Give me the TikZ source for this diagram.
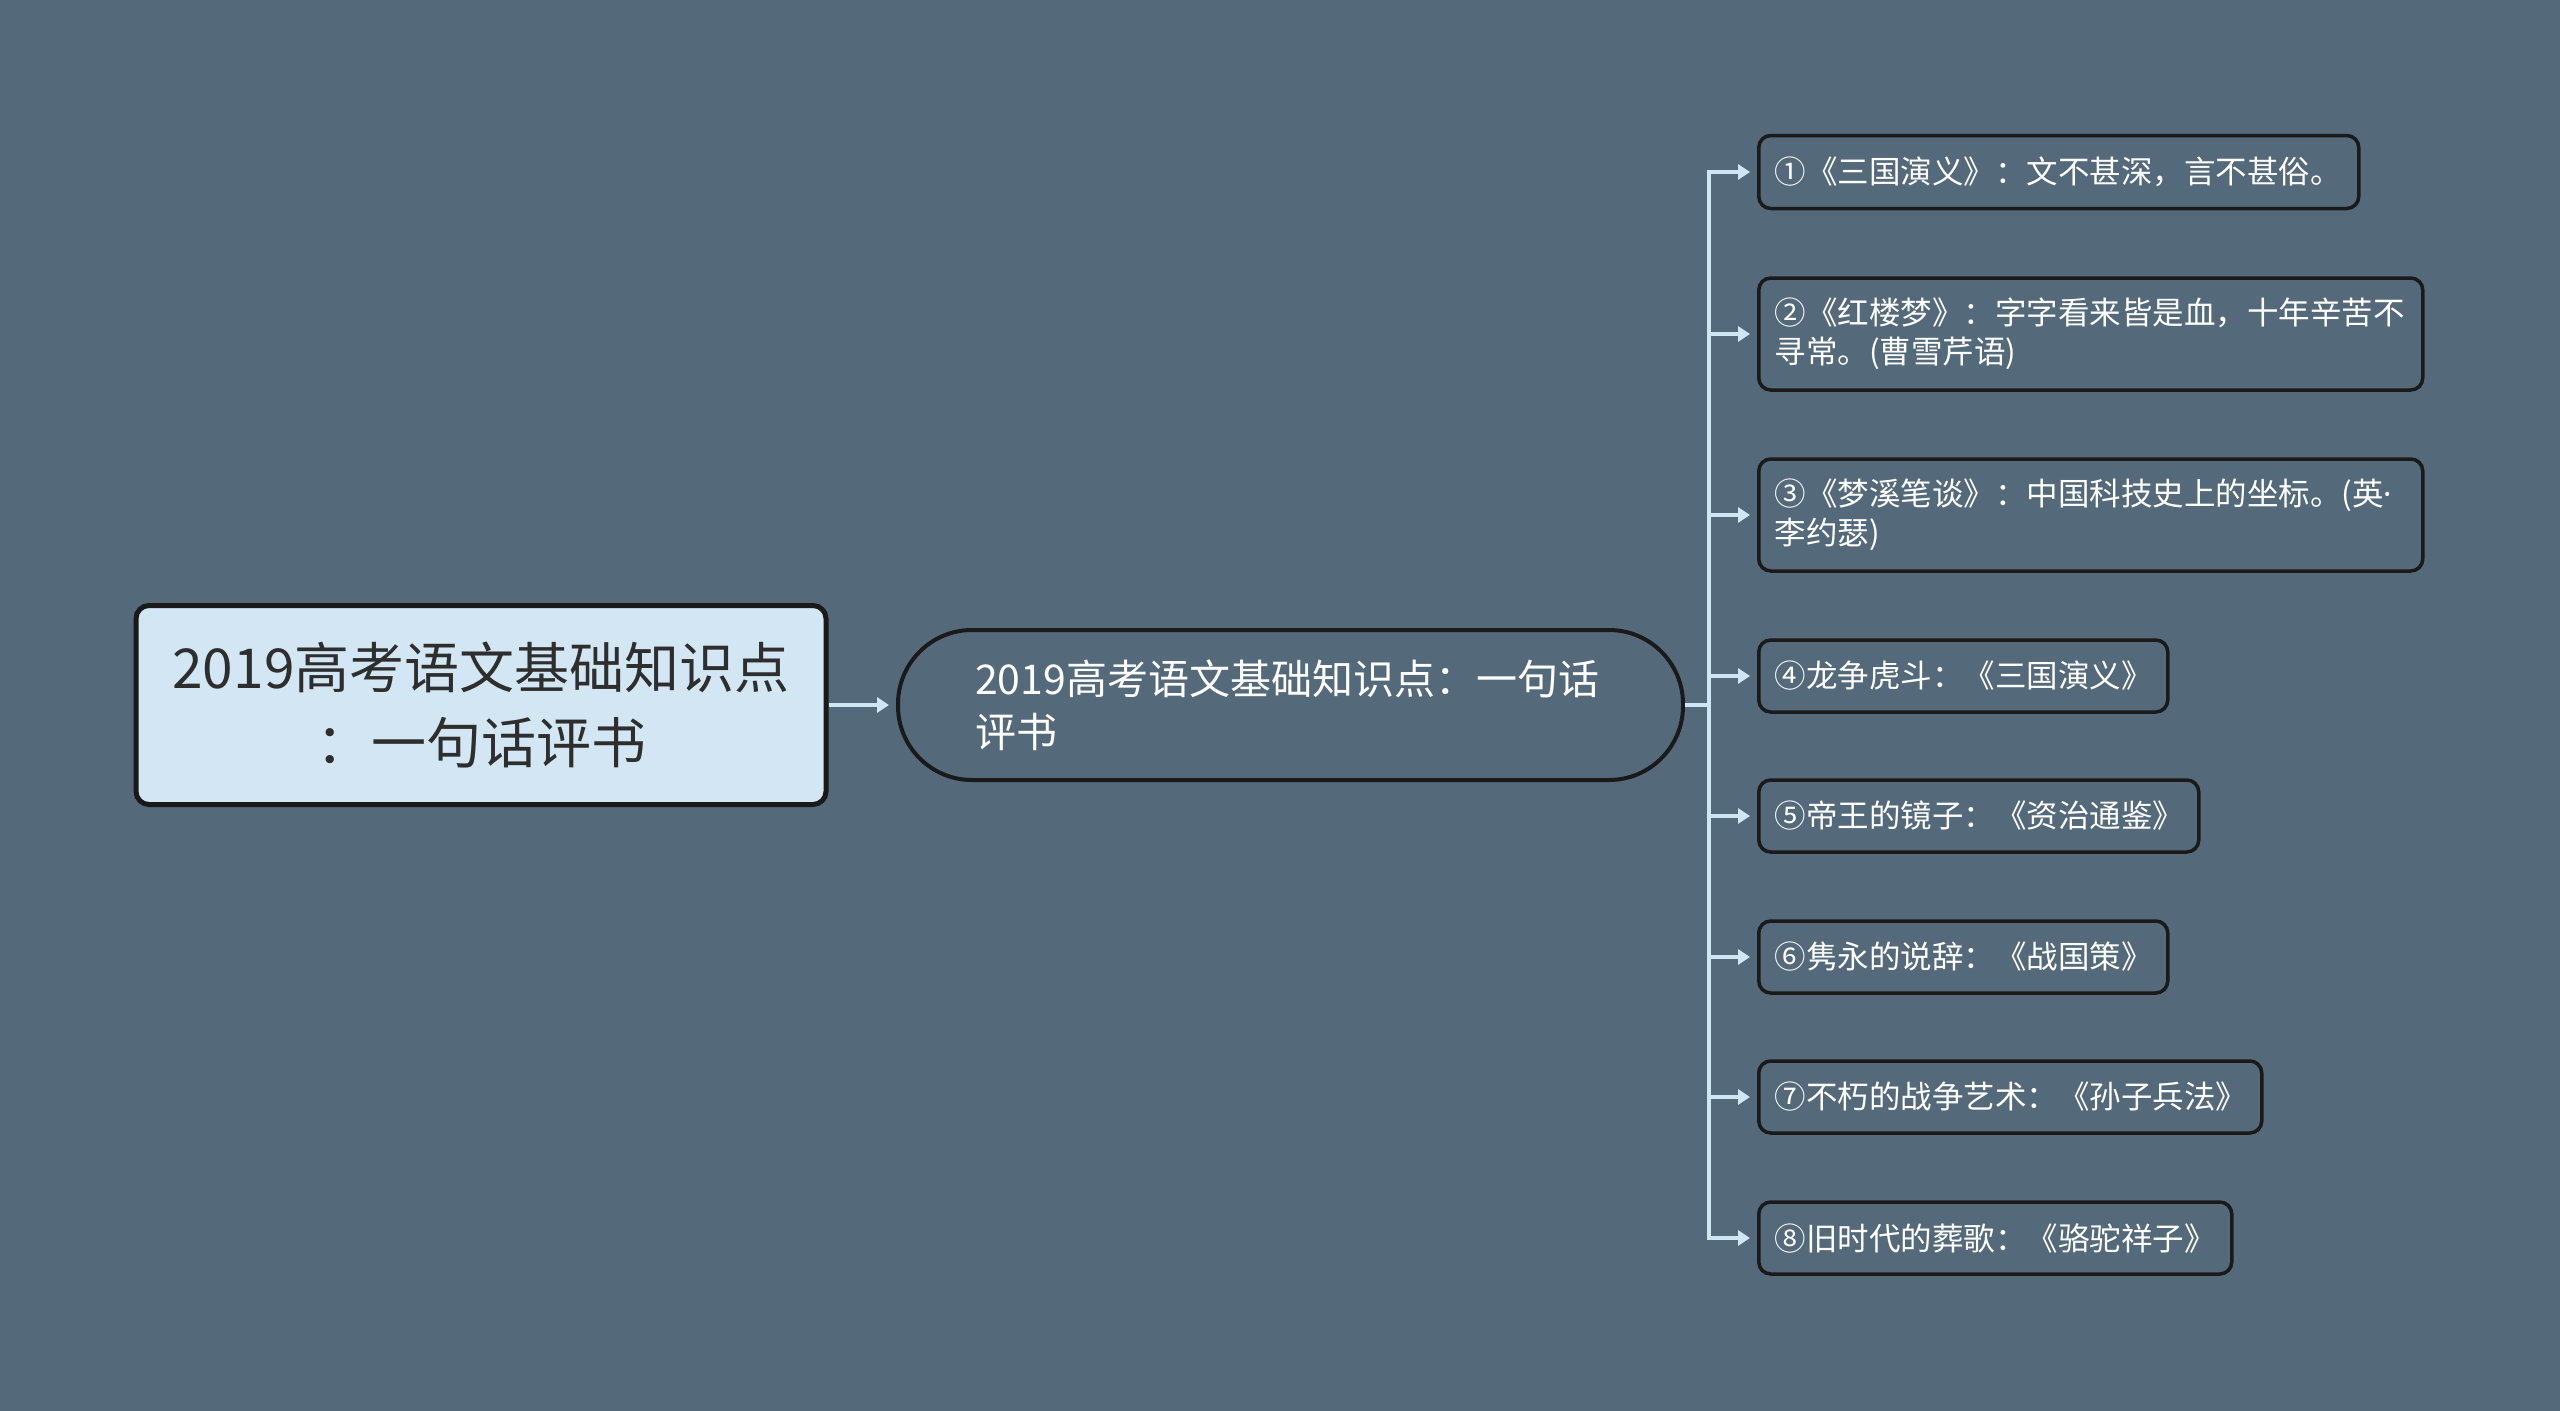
\documentclass[tikz,border=0pt]{standalone}
\usepackage{fontspec}
\newfontfamily\cjk{Noto Sans CJK SC}
\newfontfamily\latinsans{Noto Sans}
\usetikzlibrary{arrows.meta}
\definecolor{bgc}{HTML}{546A7A}
\definecolor{rootfill}{HTML}{D2E7F3}
\definecolor{linec}{HTML}{CFE6F4}
\definecolor{edgec}{HTML}{1A1A1A}
\definecolor{roottext}{HTML}{2E2E2E}
\tikzset{
  rootbox/.style={draw=edgec, line width=5pt, fill=rootfill, rounded corners=13pt,
    font=\cjk\fontsize{55}{75}\selectfont, text=roottext, align=center,
    minimum width=690pt, minimum height=199pt, inner sep=0pt},
  midbox/.style={draw=edgec, line width=4pt, fill=bgc, rounded corners=74pt,
    font=\cjk\fontsize{41}{53.5}\selectfont, text=white, align=left,
    minimum width=785pt, minimum height=150pt, inner xsep=77pt, inner ysep=0pt,
    text width=631pt},
  leafbox/.style={draw=edgec, line width=3.5pt, fill=bgc, rounded corners=12pt,
    font=\cjk\fontsize{31.5}{39}\selectfont, text=white, align=left,
    inner xsep=16pt, inner ysep=0pt, anchor=west},
  conn/.style={draw=linec, line width=4pt, -{Triangle[width=15pt,length=12pt]}, shorten >=7pt}
}
\begin{document}
\begin{tikzpicture}[x=1pt,y=-1pt]
\fill[bgc] (0,0) rectangle (2560,1411);
\useasboundingbox (0,0) rectangle (2560,1411);

\node[rootbox] (root) at (481,705) {2019高考语文基础知识点\\：一句话评书};
\node[midbox] (mid) at (1290.5,705) {2019高考语文基础知识点：一句话\\评书};

\node[leafbox, text width=568pt, minimum height=73pt] (c1) at (1757,172) {①《三国演义》：文不甚深，言不甚俗。};
\node[leafbox, text width=632pt, minimum height=112pt] (c2) at (1757,334) {②《红楼梦》：字字看来皆是血，十年辛苦不\\寻常。(曹雪芹语)};
\node[leafbox, text width=632pt, minimum height=112pt] (c3) at (1757,515) {③《梦溪笔谈》：中国科技史上的坐标。(英{\latinsans ·}\\李约瑟)};
\node[leafbox, text width=377pt, minimum height=72pt] (c4) at (1757,676) {④龙争虎斗：《三国演义》};
\node[leafbox, text width=408pt, minimum height=72pt] (c5) at (1757,816) {⑤帝王的镜子：《资治通鉴》};
\node[leafbox, text width=377pt, minimum height=72pt] (c6) at (1757,957) {⑥隽永的说辞：《战国策》};
\node[leafbox, text width=471pt, minimum height=72pt] (c7) at (1757,1097) {⑦不朽的战争艺术：《孙子兵法》};
\node[leafbox, text width=441pt, minimum height=72pt] (c8) at (1757,1238) {⑧旧时代的葬歌：《骆驼祥子》};

\draw[conn] (root.east) -- (mid.west);
\coordinate (trunk) at (1709,705);
\draw[draw=linec, line width=4pt] (mid.east) -- (trunk);
\foreach \c in {c1,c2,c3,c4,c5,c6,c7,c8}{
  \draw[conn] (trunk) |- (\c.west);
}
\end{tikzpicture}
\end{document}
